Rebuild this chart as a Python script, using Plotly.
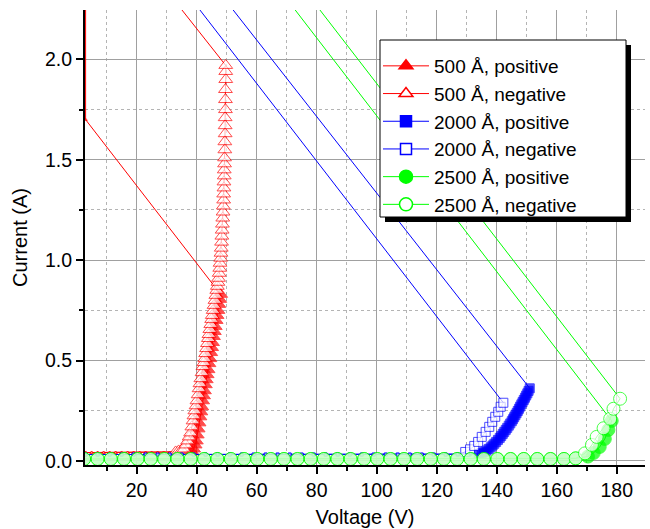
import plotly.graph_objects as go

FONT = "Liberation Sans, Arial, sans-serif"

# ---------------- data (Voltage in V, Current in A) ----------------
# 500 Å, positive
red_pos_base_v = [3, 5, 7, 9, 11, 13, 15, 17, 19, 21, 23, 25, 27, 29, 31, 33, 35, 37]
red_pos_base_i = [0.042, 0.042, 0.042, 0.042, 0.042, 0.042, 0.042, 0.042, 0.042,
                  0.042, 0.042, 0.042, 0.042, 0.042, 0.042, 0.042, 0.042, 0.042]
red_pos_v = [38.5, 39.0, 39.5, 39.9, 40.2, 40.5, 40.8, 41.1, 41.4, 41.7,
             42.0, 42.3, 42.6, 42.9, 43.2, 43.5, 43.8, 44.1, 44.4, 44.7,
             45.0, 45.3, 45.6, 45.9, 46.2, 46.5, 46.8, 47.1, 47.4, 47.7, 48.0]
red_pos_i = [0.045, 0.06, 0.08, 0.10, 0.13, 0.16, 0.19, 0.22, 0.245, 0.27,
             0.30, 0.325, 0.35, 0.38, 0.405, 0.43, 0.455, 0.485, 0.51, 0.54,
             0.565, 0.59, 0.62, 0.645, 0.67, 0.70, 0.725, 0.75, 0.78, 0.805, 0.83]
red_pos_tail_v = [3.0, 3.0]
red_pos_tail_i = [1.70, 2.6]

# 500 Å, negative
red_neg_base_v = [3, 5, 7, 9, 11, 13, 15, 17, 19, 21, 23, 25, 27, 29, 31]
red_neg_base_i = [0.042, 0.042, 0.042, 0.042, 0.042, 0.042, 0.042, 0.042,
                  0.042, 0.042, 0.042, 0.042, 0.042, 0.042, 0.042]
red_neg_v = [33.0, 34.0, 35.0, 35.8, 36.4, 37.0, 37.5, 38.0, 38.4, 38.8,
             39.1, 39.4, 39.8, 40.1, 40.5, 40.8, 41.1, 41.4, 41.8, 42.1,
             42.4, 42.7, 43.0, 43.3, 43.6, 43.9, 44.1, 44.4, 44.7, 45.0,
             45.2, 45.5, 45.8, 46.1, 46.4, 46.7, 46.9, 47.1, 47.3, 47.5,
             47.7, 47.8, 48.0, 48.1, 48.2, 48.3, 48.4, 48.5, 48.6, 48.7,
             48.8, 48.9, 49.0, 49.0, 49.1, 49.1, 49.2, 49.2, 49.3, 49.3,
             49.4, 49.4, 49.5, 49.5, 49.5, 49.6, 49.6, 49.6, 49.7, 49.7, 49.7]
red_neg_i = [0.045, 0.05, 0.055, 0.06, 0.08, 0.10, 0.12, 0.14, 0.17, 0.20,
             0.225, 0.25, 0.275, 0.30, 0.33, 0.36, 0.385, 0.41, 0.44, 0.47,
             0.49, 0.51, 0.535, 0.56, 0.585, 0.61, 0.63, 0.655, 0.68, 0.705,
             0.725, 0.75, 0.775, 0.80, 0.825, 0.85, 0.87, 0.89, 0.91, 0.935,
             0.96, 0.985, 1.01, 1.035, 1.06, 1.09, 1.12, 1.15, 1.18, 1.21,
             1.24, 1.27, 1.30, 1.33, 1.36, 1.39, 1.42, 1.45, 1.48, 1.51,
             1.55, 1.59, 1.63, 1.67, 1.71, 1.75, 1.80, 1.85, 1.90, 1.94, 1.97]
red_neg_tail_v = [16.4]
red_neg_tail_i = [2.6]

# 2000 Å, positive
blue_pos_base_v = [3, 7, 11, 15, 19, 23, 27, 31, 35, 39, 43, 47, 51, 55, 59, 63, 67,
                   71, 75, 79, 83, 87, 91, 95, 99, 103, 107, 111, 115, 119, 123, 127, 131]
blue_pos_base_i = [0.032, 0.032, 0.032, 0.032, 0.032, 0.032, 0.032, 0.032, 0.032,
                   0.032, 0.032, 0.032, 0.032, 0.032, 0.032, 0.032, 0.032, 0.032,
                   0.032, 0.032, 0.032, 0.032, 0.032, 0.032, 0.032, 0.032, 0.032,
                   0.032, 0.032, 0.032, 0.032, 0.032, 0.032]
blue_pos_v = [134.0, 135.0, 135.8, 136.6, 137.3, 138.0, 138.6, 139.2, 139.8, 140.4,
              141.0, 141.5, 142.0, 142.5, 143.0, 143.5, 144.0, 144.5, 145.0, 145.4,
              145.8, 146.2, 146.6, 147.0, 147.4, 147.8, 148.2, 148.6, 149.0, 149.4,
              149.8, 150.2, 150.6, 151.0]
blue_pos_i = [0.035, 0.04, 0.045, 0.052, 0.06, 0.068, 0.077, 0.086, 0.095, 0.105,
              0.115, 0.125, 0.135, 0.145, 0.155, 0.165, 0.176, 0.187, 0.198, 0.208,
              0.218, 0.228, 0.238, 0.249, 0.26, 0.271, 0.282, 0.293, 0.304, 0.315,
              0.326, 0.337, 0.349, 0.362]
blue_pos_tail_v = [33.6]
blue_pos_tail_i = [2.6]

# 2000 Å, negative
blue_neg_base_v = [3, 7, 11, 15, 19, 23, 27, 31, 35, 39, 43, 47, 51, 55, 59, 63,
                   67, 71, 75, 79, 83, 87, 91, 95, 99, 103, 107, 111, 115, 119, 123, 127]
blue_neg_base_i = [0.032, 0.032, 0.032, 0.032, 0.032, 0.032, 0.032, 0.032,
                   0.032, 0.032, 0.032, 0.032, 0.032, 0.032, 0.032, 0.032,
                   0.032, 0.032, 0.032, 0.032, 0.032, 0.032, 0.032, 0.032,
                   0.032, 0.032, 0.032, 0.032, 0.032, 0.032, 0.032, 0.033]
blue_neg_v = [129.5, 131.1, 132.5, 133.8, 135.0, 136.3, 137.5, 138.5, 139.5, 140.5, 141.3, 142.2]
blue_neg_i = [0.045, 0.058, 0.075, 0.095, 0.12, 0.145, 0.17, 0.195, 0.22, 0.245, 0.27, 0.29]
blue_neg_tail_v = [22.8]
blue_neg_tail_i = [2.6]

# 2500 Å (both polarities share the same low-current readings)
green_base_v = [2.5, 7.0, 11.4, 15.8, 20.3, 24.7, 29.2, 33.6, 38.0, 42.5,
                46.9, 51.4, 55.8, 60.2, 64.7, 69.1, 73.6, 78.0, 82.4, 86.9,
                91.3, 95.8, 100.2, 104.6, 109.1, 113.5, 118.0, 122.4, 126.8, 131.3,
                135.7, 140.2, 144.6, 149.0, 153.5, 157.9, 162.4, 166.3]
green_base_i = [0.01, 0.01, 0.01, 0.01, 0.01, 0.01, 0.01, 0.01, 0.01, 0.01,
                0.01, 0.01, 0.01, 0.01, 0.01, 0.01, 0.01, 0.01, 0.01, 0.01,
                0.01, 0.01, 0.01, 0.01, 0.01, 0.01, 0.01, 0.01, 0.01, 0.01,
                0.01, 0.01, 0.01, 0.01, 0.01, 0.01, 0.01, 0.013]
green_pos_v = [170.4, 172.3, 174.3, 176.0, 177.2, 178.3]
green_pos_i = [0.022, 0.04, 0.07, 0.11, 0.155, 0.20]
green_pos_tail_v = [54.6]
green_pos_tail_i = [2.6]
green_neg_v = [169.4, 171.7, 173.3, 175.6, 177.8, 178.9, 181.1]
green_neg_i = [0.038, 0.08, 0.12, 0.163, 0.21, 0.26, 0.31]
green_neg_tail_v = [62.8]
green_neg_tail_i = [2.6]

x_ticks = [20, 40, 60, 80, 100, 120, 140, 160, 180]
y_ticks = [0.0, 0.5, 1.0, 1.5, 2.0]
x_range = [2.8, 189.4]
y_range = [-0.02, 2.246]

# ---------------- figure ----------------
W, H = 650, 529
ML, MR, MT, MB = 85, 5, 10, 64
PW, PH = W - ML - MR, H - MT - MB


def px_x(x):  # pixel -> paper
    return (x - ML) / PW


def px_y(y):
    return (H - MB - y) / PH


fig = go.Figure()


def add_series(name, color, symbol, hollow, base_v, base_i, rise_v, rise_i,
               tail_v, tail_i, base_size, rise_size):
    v = base_v + rise_v + tail_v
    i = base_i + rise_i + tail_i
    sizes = [base_size] * len(base_v) + [rise_size] * len(rise_v) + [3] * len(tail_v)
    mcolor = "white" if hollow else color
    fig.add_trace(go.Scatter(
        x=v, y=i, name=name, mode="lines+markers", showlegend=False,
        line=dict(color=color, width=1),
        marker=dict(symbol=symbol, size=sizes, color=mcolor,
                    line=dict(color=color, width=1)),
    ))
    # legend entry
    fig.add_trace(go.Scatter(
        x=[None], y=[None], name=name, mode="lines+markers",
        line=dict(color=color, width=1),
        marker=dict(symbol=symbol, size=rise_size if rise_size > 10 else 11,
                    color=mcolor, line=dict(color=color, width=1.5)),
    ))


RED, BLUE, GREEN = "#ff0000", "#0000ff", "#00ff00"
add_series("500 Å, positive", RED, "triangle-up", False, red_pos_base_v, red_pos_base_i,
           red_pos_v, red_pos_i, red_pos_tail_v, red_pos_tail_i, 3, 12)
add_series("500 Å, negative", RED, "triangle-up", True, red_neg_base_v, red_neg_base_i,
           red_neg_v, red_neg_i, red_neg_tail_v, red_neg_tail_i, 3, 12)
add_series("2000 Å, positive", BLUE, "square", False, blue_pos_base_v, blue_pos_base_i,
           blue_pos_v, blue_pos_i, blue_pos_tail_v, blue_pos_tail_i, 3, 9)
add_series("2000 Å, negative", BLUE, "square", True, blue_neg_base_v, blue_neg_base_i,
           blue_neg_v, blue_neg_i, blue_neg_tail_v, blue_neg_tail_i, 3, 9)
add_series("2500 Å, positive", GREEN, "circle", False, green_base_v, green_base_i,
           green_pos_v, green_pos_i, green_pos_tail_v, green_pos_tail_i, 13, 13)
add_series("2500 Å, negative", GREEN, "circle", True, green_base_v, green_base_i,
           green_neg_v, green_neg_i, green_neg_tail_v, green_neg_tail_i, 13, 13)

axis_common = dict(showline=True, linecolor="black", linewidth=2,
                   tickcolor="black", tickwidth=1.5, zeroline=False)

fig.update_layout(
    width=W, height=H,
    margin=dict(l=ML, r=MR, t=MT, b=MB),
    paper_bgcolor="white", plot_bgcolor="white",
    font=dict(family=FONT, color="black", size=19),
    xaxis=dict(range=x_range, tickvals=x_ticks, ticks="outside", ticklen=7,
               showgrid=True, gridcolor="#a0a0a0", gridwidth=1,
               minor=dict(dtick=10, tick0=0, ticks="outside", ticklen=4,
                          tickcolor="black", showgrid=True, gridcolor="#b4b4b4",
                          griddash="dot", gridwidth=1),
               title=dict(text="Voltage (V)", font=dict(size=20), standoff=10),
               tickfont=dict(size=19.5), **axis_common),
    yaxis=dict(range=y_range, tickvals=y_ticks, tickformat=".1f", ticks="outside",
               ticklen=7, showgrid=True, gridcolor="#a0a0a0", gridwidth=1,
               minor=dict(dtick=0.25, tick0=0, ticks="outside", ticklen=4,
                          tickcolor="black", showgrid=True, gridcolor="#b4b4b4",
                          griddash="dot", gridwidth=1),
               title=dict(text="Current (A)", font=dict(size=20), standoff=12),
               tickfont=dict(size=19.5), **axis_common),
    xaxis2=dict(range=x_range, overlaying="x", anchor="y", side="top",
                tickvals=x_ticks, ticks="inside", ticklen=7, showticklabels=False,
                showgrid=False,
                minor=dict(dtick=10, tick0=0, ticks="inside", ticklen=4, tickcolor="black"),
                **axis_common),
    yaxis2=dict(range=y_range, overlaying="y", anchor="x", side="right",
                tickvals=y_ticks, ticks="inside", ticklen=7, showticklabels=False,
                showgrid=False,
                minor=dict(dtick=0.25, tick0=0, ticks="inside", ticklen=4, tickcolor="black"),
                **axis_common),
    legend=dict(x=px_x(378), y=px_y(47), xanchor="left", yanchor="top",
                bgcolor="rgba(0,0,0,0)", borderwidth=0,
                font=dict(family=FONT, size=19), tracegroupgap=0,
                itemwidth=46),
    showlegend=True,
)

# legend frame with drop shadow (drawn above the data, below the legend text)
fig.add_shape(type="rect", xref="paper", yref="paper", layer="above",
              x0=px_x(385), x1=px_x(631), y0=px_y(222), y1=px_y(45),
              fillcolor="black", line=dict(width=0))
fig.add_shape(type="rect", xref="paper", yref="paper", layer="above",
              x0=px_x(380), x1=px_x(626), y0=px_y(217), y1=px_y(40),
              fillcolor="white", line=dict(color="black", width=1))

fig.write_html("out.html", config={"displayModeBar": False},
               post_script="document.body.style.margin='0';")
